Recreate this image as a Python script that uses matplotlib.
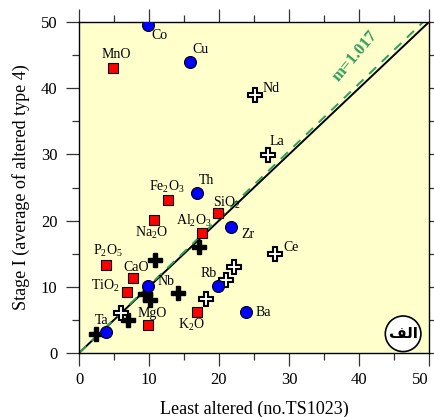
import matplotlib
matplotlib.use("Agg")
import matplotlib.pyplot as plt
import numpy as np

plt.rcParams['font.family'] = ['Liberation Serif', 'DejaVu Serif']
plt.rcParams['mathtext.fontset'] = 'custom'
plt.rcParams['mathtext.rm'] = 'Liberation Serif'
plt.rcParams['mathtext.it'] = 'Liberation Serif:italic'

# Trace elements (blue circles)
trace_names = ['Co', 'Cu', 'Th', 'Zr', 'Nb', 'Rb', 'Ba', 'Ta']
trace_x = [9.8, 15.8, 16.8, 21.7, 9.9, 19.8, 23.8, 3.9]
trace_y = [49.5, 44.0, 24.2, 19.1, 10.1, 10.1, 6.2, 3.1]

# Major oxides (red squares)
oxide_names = ['MnO', r'Fe$_2$O$_3$', r'SiO$_2$', r'Na$_2$O', r'Al$_2$O$_3$',
               r'P$_2$O$_5$', 'CaO', r'TiO$_2$', 'MgO', r'K$_2$O']
oxide_x = [4.8, 12.7, 19.8, 10.7, 17.5, 3.8, 7.7, 6.8, 9.8, 16.8]
oxide_y = [43.1, 23.1, 21.2, 20.1, 18.2, 13.3, 11.3, 9.2, 4.3, 6.2]

# Rare earth elements (open crosses)
ree_names = ['Nd', 'La', 'Ce', '', '', '', '']
ree_x = [25.1, 27.0, 28.0, 22.1, 21.0, 18.1, 6.0]
ree_y = [38.9, 29.9, 15.0, 13.0, 11.1, 8.1, 6.1]

# Other elements (solid crosses)
other_x = [17.1, 10.9, 14.1, 9.4, 10.2, 7.0, 2.4]
other_y = [16.0, 14.0, 9.0, 8.9, 8.0, 5.0, 2.8]

slope = 1.017
slope_label = 'm=1.017'

# label offsets in pixels (dx, dy, ha)
trace_off = [(12, -10, 'center'), (11, 12, 'center'), (10, 12, 'center'),
             (10, -8, 'left'), (9, 5, 'left'), (-9, 13, 'center'),
             (10, -1, 'left'), (-5, 12, 'center')]
oxide_off = [(4, 13, 'center'), (-1, 13, 'center'), (9, 10, 'center'),
             (-2, -13, 'center'), (-8, 12, 'center'), (2, 14, 'center'),
             (3, 11, 'center'), (-7, 6, 'right'), (5, 11, 'center'),
             (-5, -13, 'center')]
ree_off = [(8, 7, 'left'), (2, 14, 'left'), (8, 6, 'left')]

fig = plt.figure(figsize=(4.35, 4.17), dpi=100)
ax = fig.add_axes([79 / 435, 1 - 353 / 417, 350 / 435, 331 / 417])
ax.set_facecolor('#FFFFCC')

xs = np.array([0, 50])
ax.plot(xs, xs, color='black', lw=1.4, zorder=2)
ax.plot(xs, slope * xs, color='#2E9E5E', lw=1.4, ls=(0, (5, 4)), zorder=2)
ax.text(39.4, 44.8, slope_label, color='#2E9E5E', fontsize=12,
        fontweight='bold', rotation=50, ha='center', va='center')

ax.plot(other_x, other_y, ls='none', marker='P', ms=10, mfc='black',
        mec='black', zorder=4)
ax.plot(ree_x, ree_y, ls='none', marker='P', ms=10, mfc='white',
        mec='black', mew=1.5, zorder=4)
ax.plot(trace_x, trace_y, ls='none', marker='o', ms=8.6, mfc='#0000FF',
        mec='black', mew=0.8, zorder=5)
ax.plot(oxide_x, oxide_y, ls='none', marker='s', ms=7.6, mfc='#FF0000',
        mec='black', mew=0.8, zorder=5)

def put_labels(names, xv, yv, offs):
    for n, x, y, (dx, dy, ha) in zip(names, xv, yv, offs):
        if not n:
            continue
        ax.annotate(n, (x, y), xytext=(dx, dy), textcoords='offset pixels',
                    ha=ha, va='center', fontsize=10, zorder=6)

put_labels(trace_names, trace_x, trace_y, trace_off)
put_labels(oxide_names, oxide_x, oxide_y, oxide_off)
put_labels(ree_names, ree_x, ree_y, ree_off)

# panel tag "الف" (shaped presentation forms, visual order)
ax.text(46.3, 2.9, '\uFED2\uFEDF\uFE8D', family=['DejaVu Sans'],
        fontweight='bold', fontsize=11, ha='center', va='center',
        bbox=dict(boxstyle='circle,pad=0.22', fc='white', ec='black', lw=1.2),
        zorder=7)

ax.set_xlim(0, 50)
ax.set_ylim(0, 50)
ax.set_xticks(np.arange(0, 51, 10))
ax.set_yticks(np.arange(0, 51, 10))
ax.set_xticks(np.arange(0, 51, 5), minor=True)
ax.set_yticks(np.arange(0, 51, 5), minor=True)
ax.tick_params(which='both', direction='out', top=True, right=True,
               labelsize=12, width=0.9, color='#333333')
ax.tick_params(which='major', length=9.5)
ax.tick_params(which='minor', length=5)
ax.tick_params(axis='x', which='major', pad=4)
ax.tick_params(axis='y', which='major', pad=6)
for s in ax.spines.values():
    s.set_linewidth(1.0)
ax.get_xticklabels()[-1].set_horizontalalignment('right')

ax.set_xlabel('Least altered (no.TS1023)', fontsize=13, labelpad=9)
ax.set_ylabel('Stage I (average of altered type 4)', fontsize=13, labelpad=8)

fig.savefig('out.png', dpi=100)
